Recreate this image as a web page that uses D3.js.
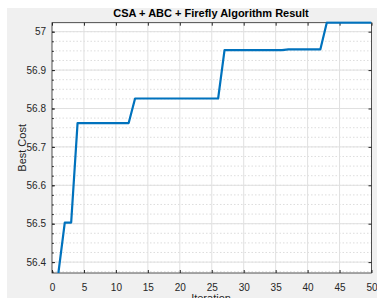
<!DOCTYPE html>
<html>
<head>
<meta charset="utf-8">
<script src="https://cdn.jsdelivr.net/npm/d3@7"></script>
<style>
  body { margin: 0; background: #fff; }
  svg { display: block; font-family: "Liberation Sans", Arial, sans-serif; }
</style>
</head>
<body>
<svg id="chart" width="377" height="298"></svg>
<script>
// best cost per iteration
const iterations = d3.range(1, 51);
const bestCost = [
  56.3716, 56.503, 56.503,
  56.762, 56.762, 56.762, 56.762, 56.762, 56.762, 56.762, 56.762, 56.762,
  56.826, 56.826, 56.826, 56.826, 56.826, 56.826, 56.826, 56.826, 56.826, 56.826, 56.826, 56.826, 56.826, 56.826,
  56.952, 56.952, 56.952, 56.952, 56.952, 56.952, 56.952, 56.952, 56.952, 56.952,
  56.954, 56.954, 56.954, 56.954, 56.954, 56.954,
  57.0234, 57.0234, 57.0234, 57.0234, 57.0234, 57.0234, 57.0234, 57.0234
];
const xTicks = [0, 5, 10, 15, 20, 25, 30, 35, 40, 45, 50];
const yTicks = [56.4, 56.5, 56.6, 56.7, 56.8, 56.9, 57];

const svg = d3.select("#chart");
const plotL = 52, plotR = 371.5, plotT = 22.7, plotB = 273;

// gray figure background
svg.append("rect").attr("x", 7).attr("y", 8).attr("width", 370).attr("height", 290).attr("fill", "#f0f0f0");
svg.append("rect").attr("x", plotL).attr("y", plotT).attr("width", plotR - plotL).attr("height", plotB - plotT).attr("fill", "#fff");

let x = d3.scaleLinear().domain([0, 50]).range([plotL, plotR]);
let y = d3.scaleLinear().domain([d3.min(bestCost), d3.max(bestCost)]).range([plotB, plotT]);

// minor grid (y only)
let minor = d3.range(56.375, 57.03, 0.025).filter(v => v >= y.domain()[0] && v <= y.domain()[1]);
svg.append("g").selectAll("line").data(minor).enter().append("line")
  .attr("x1", plotL).attr("x2", plotR)
  .attr("y1", d => y(d)).attr("y2", d => y(d))
  .attr("stroke", "#d4d4d4").attr("stroke-width", 0.8).attr("stroke-dasharray", "1.5,2");

// major grid
svg.append("g").selectAll("line").data(xTicks.slice(1, -1)).enter().append("line")
  .attr("x1", d => x(d)).attr("x2", d => x(d)).attr("y1", plotT).attr("y2", plotB)
  .attr("stroke", "#e0e0e0").attr("stroke-width", 1);
svg.append("g").selectAll("line").data(yTicks).enter().append("line")
  .attr("x1", plotL).attr("x2", plotR).attr("y1", d => y(d)).attr("y2", d => y(d))
  .attr("stroke", "#e0e0e0").attr("stroke-width", 1);

// axes
const axisColor = "#262626";
function styleAxis(g) {
  g.select(".domain").remove();
  g.selectAll("line").attr("stroke", axisColor);
  g.selectAll("text").attr("fill", axisColor).attr("font-size", "10px");
}
svg.append("g").attr("transform", `translate(0,${plotB})`)
  .call(d3.axisBottom(x).tickValues(xTicks).tickSizeInner(-3).tickSizeOuter(0).tickPadding(11))
  .call(styleAxis);
svg.append("g").attr("transform", `translate(0,${plotT})`)
  .call(d3.axisTop(x).tickValues(xTicks).tickSizeInner(-3).tickSizeOuter(0).tickFormat(""))
  .call(styleAxis);
svg.append("g").attr("transform", `translate(${plotL},0)`)
  .call(d3.axisLeft(y).tickValues(yTicks).tickFormat(d3.format("")).tickSizeInner(-3).tickSizeOuter(0).tickPadding(6))
  .call(styleAxis);
svg.append("g").attr("transform", `translate(${plotR},0)`)
  .call(d3.axisRight(y).tickValues(yTicks).tickSizeInner(-3).tickSizeOuter(0).tickFormat(""))
  .call(styleAxis);
// minor ticks on y
svg.append("g").attr("transform", `translate(${plotL},0)`)
  .call(d3.axisLeft(y).tickValues(minor).tickSizeInner(-1.8).tickSizeOuter(0).tickFormat(""))
  .call(styleAxis);

// box
svg.append("rect").attr("x", plotL).attr("y", plotT).attr("width", plotR - plotL).attr("height", plotB - plotT)
  .attr("fill", "none").attr("stroke", axisColor).attr("stroke-width", 0.8);

// line, clipped to axes
svg.append("clipPath").attr("id", "clip").append("rect")
  .attr("x", plotL).attr("y", plotT - 1.5).attr("width", plotR - plotL).attr("height", plotB - plotT + 1.5);
svg.append("path").datum(bestCost)
  .attr("clip-path", "url(#clip)")
  .attr("d", d3.line().x((d, i) => x(iterations[i])).y(d => y(d)))
  .attr("fill", "none").attr("stroke", "#0072BD").attr("stroke-width", 2.2).attr("stroke-linejoin", "round");

// title and labels
svg.append("text").attr("x", 211).attr("y", 17).attr("text-anchor", "middle")
  .attr("font-size", "11px").attr("font-weight", "bold").attr("fill", "#000")
  .text("CSA + ABC + Firefly Algorithm Result");
svg.append("text").attr("transform", `translate(26,${(plotT + plotB) / 2}) rotate(-90)`)
  .attr("text-anchor", "middle").attr("font-size", "11px").attr("fill", axisColor)
  .text("Best Cost");
svg.append("text").attr("x", 211).attr("y", 302).attr("text-anchor", "middle")
  .attr("font-size", "11px").attr("fill", axisColor)
  .text("Iteration");
</script>
</body>
</html>
